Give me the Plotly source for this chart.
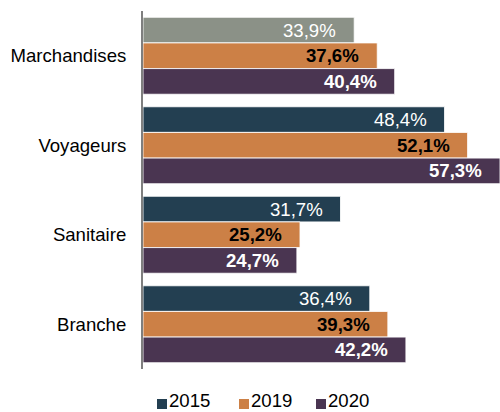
import plotly.graph_objects as go

categories = ["Marchandises", "Voyageurs", "Sanitaire", "Branche"]
years = ["2015", "2019", "2020"]
v2015 = [33.9, 48.4, 31.7, 36.4]
v2019 = [37.6, 52.1, 25.2, 39.3]
v2020 = [40.4, 57.3, 24.7, 42.2]

series = [v2015, v2019, v2020]
colors = ["#233f51", "#cc8046", "#4a3551"]
# first 2015 bar (Marchandises) is shown in grey
colors_2015 = ["#8b9187", "#233f51", "#233f51", "#233f51"]
FONT = "Liberation Sans, Arial"
FS = 18.6
label_fonts = [
    dict(family=FONT, size=FS, color="white"),
    dict(family=FONT, size=FS, color="black", weight="bold"),
    dict(family=FONT, size=FS, color="white", weight="bold"),
]

W, H = 500, 412
L, R, T, B = 143, 0, 11, 43
XMAX = 57.3
BARGAP = 0.14

fig = go.Figure()
for i, (yr, vals) in enumerate(zip(years, series)):
    fig.add_trace(go.Bar(
        name=yr,
        y=categories,
        x=vals,
        orientation="h",
        marker=dict(
            color=colors_2015 if i == 0 else colors[i],
            line=dict(color="rgba(255,255,255,0.85)", width=1),
        ),
        hoverinfo="skip",
        showlegend=False,
    ))

# value labels, right-aligned inside each bar end
bar_w = (1 - BARGAP) / 3
for i, vals in enumerate(series):
    offset = (i - 1) * bar_w
    for c, v in enumerate(vals):
        fig.add_annotation(
            x=v, y=c + offset, xref="x", yref="y",
            text=f"{v:.1f}%".replace(".", ","),
            showarrow=False, xanchor="right", yanchor="middle",
            xshift=-16, font=label_fonts[i],
        )

# legend drawn as squares + labels below the plot
pw, ph = W - L - R, H - T - B
def px(xp):
    return (xp - L) / pw
def py(yp):
    return (H - B - yp) / ph

legend_x = [157, 239, 316]
for yr, col, lx in zip(years, colors, legend_x):
    fig.add_shape(type="rect", xref="paper", yref="paper",
                  x0=px(lx), x1=px(lx + 10), y0=py(409), y1=py(399),
                  fillcolor=col, line=dict(width=0))
    fig.add_annotation(x=px(lx + 11), y=py(400.5), xref="paper", yref="paper",
                       text=yr, showarrow=False, xanchor="left", yanchor="middle",
                       borderpad=0,
                       font=dict(family=FONT, size=FS, color="black"))

fig.update_layout(
    width=W, height=H,
    margin=dict(l=L, r=R, t=T, b=B),
    barmode="group",
    bargap=BARGAP,
    bargroupgap=0,
    plot_bgcolor="white",
    paper_bgcolor="white",
    showlegend=False,
    hovermode=False,
    font=dict(family=FONT, size=FS, color="black"),
)
fig.update_xaxes(range=[0, XMAX], visible=False, showgrid=False, zeroline=False)
fig.update_yaxes(
    type="category",
    categoryorder="array", categoryarray=categories,
    range=[3.5, -0.5],
    showline=True, linecolor="#7f7f7f", linewidth=2,
    showgrid=False, zeroline=False,
    ticks="", ticklabelstandoff=11,
    tickfont=dict(family=FONT, size=FS, color="black"),
)

fig.write_html("out.html")
